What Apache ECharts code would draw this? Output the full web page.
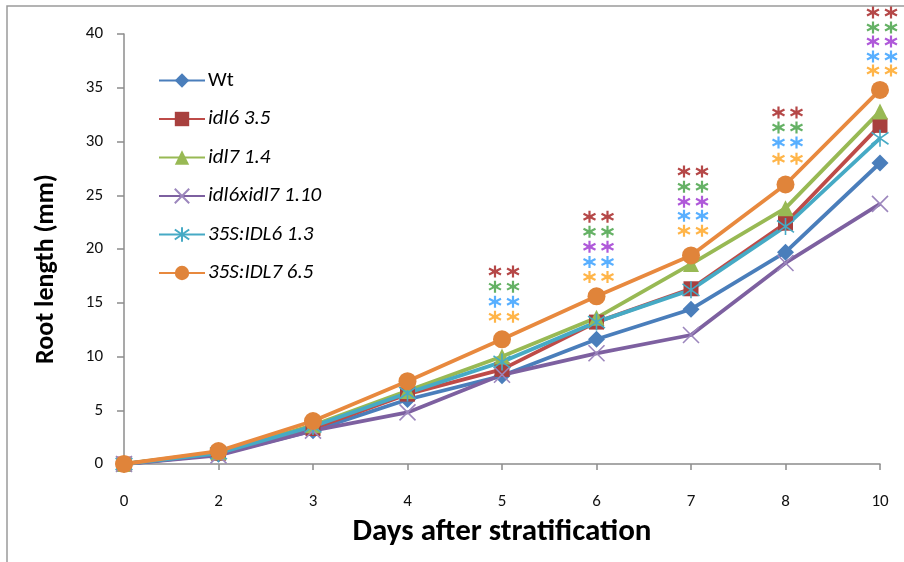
<!DOCTYPE html>
<html>
<head>
<meta charset="utf-8">
<script src="https://cdn.jsdelivr.net/npm/echarts@6/dist/echarts.min.js"></script>
<style>
  html, body { margin: 0; padding: 0; background: #fff; }
  #main { width: 904px; height: 562px; }
</style>
</head>
<body>
<div id="main"></div>
<script>
// days after stratification
const days = ['0', '2', '3', '4', '5', '6', '7', '8', '10'];
const yTicks = { min: 0, max: 40, interval: 5 };

// root length (mm)
const wt = [0, 0.9, 3.1, 6.0, 8.2, 11.6, 14.4, 19.7, 28.0];
const idl6 = [0, 1.0, 3.3, 6.5, 8.8, 13.2, 16.3, 22.4, 31.5];
const idl7 = [0, 1.1, 3.6, 6.8, 10.0, 13.6, 18.6, 23.8, 32.8];
const idl6xidl7 = [0, 0.8, 3.1, 4.8, 8.3, 10.3, 12.0, 18.7, 24.2];
const idl6oe = [0, 1.0, 3.5, 6.6, 9.5, 13.2, 16.2, 22.1, 30.3];
const idl7oe = [0, 1.2, 4.0, 7.7, 11.6, 15.6, 19.4, 26.0, 34.8];

// significance asterisks: [day, height]
const sigRed = [['5', 17.9], ['6', 23.0], ['7', 27.2], ['8', 32.7], ['10', 42.0]];
const sigGreen = [['5', 16.5], ['6', 21.6], ['7', 25.8], ['8', 31.3], ['10', 40.6]];
const sigPurple = [['6', 20.2], ['7', 24.4], ['10', 39.3]];
const sigBlue = [['5', 15.1], ['6', 18.8], ['7', 23.1], ['8', 29.9], ['10', 37.9]];
const sigOrange = [['5', 13.7], ['6', 17.4], ['7', 21.7], ['8', 28.4], ['10', 36.6]];

const starPath = 'path://M5,0L5,10M0.3,2.5L9.7,7.5M0.3,7.5L9.7,2.5M2.5,5L7.5,5';
const crossPath = 'path://M0,0L10,10M0,10L10,0';
const asterPath = 'path://M5,0L5,10M0.5,1.5L9.5,8.5M0.5,8.5L9.5,1.5';

const font = "Calibri, Carlito, 'Liberation Sans', Arial, sans-serif";

function lineSeries(name, data, color, symbol, size, extra) {
  return Object.assign({
    name: name,
    type: 'line',
    data: data,
    symbol: symbol,
    symbolSize: size,
    showAllSymbol: true,
    lineStyle: { color: color, width: 3.8 },
    itemStyle: { color: color },
    z: 3
  }, extra || {});
}

function sigSeries(data, color) {
  let out = [];
  [[-7, 0], [11, 0]].forEach(off => {
    out.push({
      type: 'scatter',
      data: data,
      symbol: starPath,
      symbolSize: 12,
      symbolOffset: off,
      clip: false,
      silent: true,
      itemStyle: { color: 'none', borderColor: color, borderWidth: 2.2 },
      z: 5
    });
  });
  return out;
}

let chart = echarts.init(document.getElementById('main'));

let option = {
  animation: false,
  backgroundColor: '#fff',
  graphic: [{
    type: 'rect',
    shape: { x: 7, y: 6, width: 1200, height: 1000 },
    style: { fill: 'none', stroke: '#9a9a9a', lineWidth: 1.5 },
    silent: true
  }],
  grid: { left: 124, right: 24, top: 34, bottom: 98 },
  legend: {
    orient: 'vertical',
    left: 153,
    top: 65,
    itemWidth: 46,
    itemHeight: 18,
    itemGap: 17.5,
    data: ['Wt', 'idl6 3.5', 'idl7 1.4', 'idl6xidl7 1.10', '35S:IDL6 1.3', '35S:IDL7 6.5'],
    formatter: name => name === 'Wt' ? '{n|' + name + '}' : '{i|' + name + '}',
    textStyle: {
      fontFamily: font,
      fontSize: 21,
      lineHeight: 18,
      color: '#000',
      rich: {
        n: { fontStyle: 'normal', fontSize: 21, lineHeight: 18, fontFamily: font, padding: [0, 0, 0, -2] },
        i: { fontStyle: 'italic', fontSize: 21, lineHeight: 18, fontFamily: font, padding: [0, 0, 0, -2] }
      }
    }
  },
  xAxis: {
    type: 'category',
    data: days,
    boundaryGap: false,
    name: 'Days after stratification',
    nameLocation: 'middle',
    nameGap: 53,
    nameTextStyle: { fontFamily: font, fontSize: 31, fontWeight: 'bold', color: '#000' },
    axisLine: { lineStyle: { color: '#8c8c8c', width: 1.5 } },
    axisTick: { show: true, length: 6, lineStyle: { color: '#8c8c8c', width: 1.5 } },
    axisLabel: { margin: 29, fontFamily: font, fontSize: 17, color: '#111' },
    splitLine: { show: false }
  },
  yAxis: {
    type: 'value',
    min: yTicks.min,
    max: yTicks.max,
    interval: yTicks.interval,
    name: 'Root length (mm)',
    nameLocation: 'middle',
    nameGap: 65,
    nameTextStyle: { fontFamily: font, fontSize: 26, fontWeight: 'bold', color: '#000', padding: [0, 40, 0, 0] },
    axisLine: { show: true, lineStyle: { color: '#8c8c8c', width: 1.5 } },
    axisTick: { show: true, inside: false, length: 7, lineStyle: { color: '#8c8c8c', width: 1.5 } },
    axisLabel: { margin: 21, fontFamily: font, fontSize: 17, color: '#111' },
    splitLine: { show: false }
  },
  series: [
    lineSeries('Wt', wt, '#4a7ebb', 'diamond', 17),
    lineSeries('idl6 3.5', idl6, '#be4b48', 'rect', 15, { itemStyle: { color: '#a8403e' } }),
    lineSeries('idl7 1.4', idl7, '#98b954', 'triangle', 16),
    lineSeries('idl6xidl7 1.10', idl6xidl7, '#7d60a0', crossPath, 16, {
      itemStyle: { color: 'none', borderColor: '#9c86bd', borderWidth: 1.6 }
    }),
    lineSeries('35S:IDL6 1.3', idl6oe, '#46aac5', asterPath, 17, {
      itemStyle: { color: 'none', borderColor: '#46aac5', borderWidth: 1.6 }
    }),
    lineSeries('35S:IDL7 6.5', idl7oe, '#e8893e', 'circle', 18, { itemStyle: { color: '#e0843a' } })
  ].concat(
    sigSeries(sigRed, '#a31a1a'),
    sigSeries(sigGreen, '#3f9e3f'),
    sigSeries(sigPurple, '#9b30d0'),
    sigSeries(sigBlue, '#2e9bff'),
    sigSeries(sigOrange, '#ffa21c')
  )
};

chart.setOption(option);
</script>
</body>
</html>
